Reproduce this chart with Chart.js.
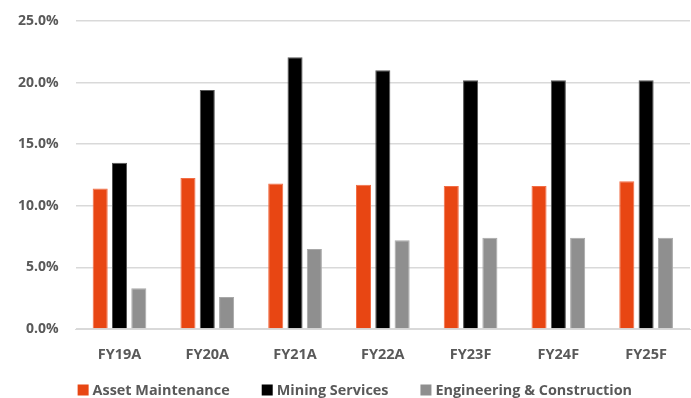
<!DOCTYPE html>
<html>
<head>
<meta charset="utf-8">
<script src="https://cdn.jsdelivr.net/npm/chart.js@4/dist/chart.umd.min.js"></script>
<style>
  html, body { margin: 0; padding: 0; background: #fff; }
  #wrap { width: 691px; height: 398px; position: relative; }
</style>
</head>
<body>
<div id="wrap"><canvas id="c"></canvas></div>
<script>
// EBITDA margin by division, actuals and forecasts
const categories = ['FY19A', 'FY20A', 'FY21A', 'FY22A', 'FY23F', 'FY24F', 'FY25F'];
const assetMaintenance = [11.4, 12.25, 11.8, 11.7, 11.6, 11.6, 12.0];
const miningServices = [13.5, 19.4, 22.05, 21.0, 20.2, 20.2, 20.2];
const engineeringConstruction = [3.3, 2.6, 6.5, 7.2, 7.4, 7.4, 7.4];
const yTicks = [0, 5, 10, 15, 20, 25];

const FONT = "'Open Sans', 'Liberation Sans', sans-serif";
const TEXT = '#595959';

function series(label, data, color, border) {
  return {
    label, data,
    backgroundColor: color,
    borderColor: border,
    borderWidth: 1,
    categoryPercentage: 0.66,
    barPercentage: 0.78
  };
}

// Single-row legend under the x axis: square swatch, small gap, label,
// wide gap between entries.
const bottomLegend = {
  id: 'bottomLegend',
  afterDraw(chart) {
    const ctx = chart.ctx;
    const box = 11, gap = 4, spacing = 32;
    const y = 390;
    ctx.save();
    ctx.font = "bold 14.4px " + FONT;
    ctx.textBaseline = 'middle';
    ctx.textAlign = 'left';
    let x = chart.chartArea.left + 2;
    chart.data.datasets.forEach(ds => {
      ctx.fillStyle = ds.backgroundColor;
      ctx.fillRect(x, y - box / 2, box, box);
      x += box + gap;
      ctx.fillStyle = TEXT;
      ctx.fillText(ds.label, x, y + 0.5);
      x += ctx.measureText(ds.label).width + spacing;
    });
    ctx.restore();
  }
};

new Chart(document.getElementById('c'), {
  type: 'bar',
  data: {
    labels: categories,
    datasets: [
      series('Asset Maintenance', assetMaintenance, '#e84613', '#f26d45'),
      series('Mining Services', miningServices, '#000000', '#555555'),
      series('Engineering & Construction', engineeringConstruction, '#8f8f8f', '#a8a8a8')
    ]
  },
  plugins: [bottomLegend],
  options: {
    responsive: true,
    maintainAspectRatio: false,
    animation: false,
    layout: { padding: { top: 21, right: 1, left: 1, bottom: 17.6 } },
    plugins: {
      legend: { display: false },
      tooltip: { enabled: false }
    },
    scales: {
      x: {
        grid: { display: false, drawTicks: false },
        border: { display: true, color: '#d9d9d9', width: 1 },
        ticks: { color: TEXT, padding: 17, font: { family: FONT, size: 14.5, weight: 'bold' } }
      },
      y: {
        min: 0, max: 25,
        afterBuildTicks: axis => { axis.ticks = yTicks.map(v => ({ value: v })); },
        // top spacing comes from layout padding alone
        afterFit: s => { s.paddingTop = 0; },
        grid: { color: '#d9d9d9', lineWidth: 1.5, drawTicks: false },
        border: { display: false },
        ticks: {
          color: TEXT, padding: 17,
          font: { family: FONT, size: 14, weight: 'bold' },
          callback: v => v.toFixed(1) + '%'
        }
      }
    }
  }
});
</script>
</body>
</html>
